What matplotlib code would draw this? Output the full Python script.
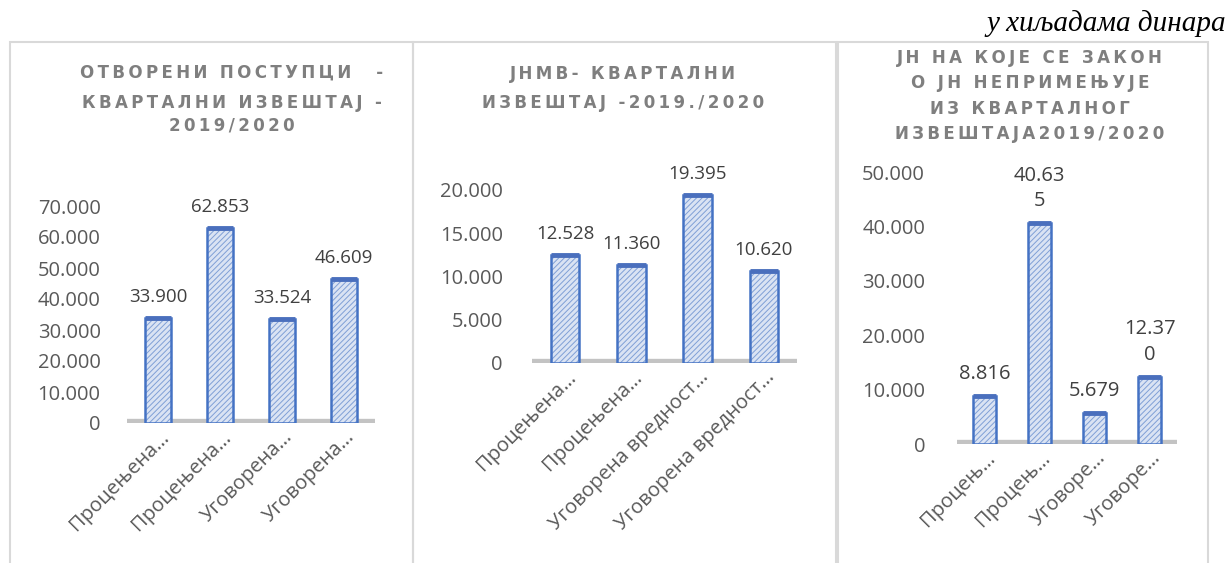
import matplotlib
matplotlib.use('Agg')
import matplotlib.pyplot as plt
import matplotlib.patches as mpatches
from matplotlib.transforms import ScaledTranslation

# ---------------------------------------------------------------------------
# Data (values in thousands of dinars)
# ---------------------------------------------------------------------------
CATS_OPEN = ['Процењена…', 'Процењена…', 'Уговорена…', 'Уговорена…']
VALS_OPEN = [33900, 62853, 33524, 46609]
TITLE_OPEN = ['ОТВОРЕНИ ПОСТУПЦИ  -', 'КВАРТАЛНИ ИЗВЕШТАЈ -', '2019/2020']
YMAX_OPEN, YSTEP_OPEN = 70000, 10000

CATS_LOW = ['Процењена…', 'Процењена…', 'Уговорена вредност…', 'Уговорена вредност…']
VALS_LOW = [12528, 11360, 19395, 10620]
TITLE_LOW = ['ЈНМВ- КВАРТАЛНИ', 'ИЗВЕШТАЈ -2019./2020']
YMAX_LOW, YSTEP_LOW = 20000, 5000

CATS_EXEMPT = ['Процењ…', 'Процењ…', 'Уговоре…', 'Уговоре…']
VALS_EXEMPT = [8816, 40635, 5679, 12370]
TITLE_EXEMPT = ['ЈН НА КОЈЕ СЕ ЗАКОН', 'О ЈН НЕПРИМЕЊУЈЕ', 'ИЗ КВАРТАЛНОГ', 'ИЗВЕШТАЈА2019/2020']
YMAX_EXEMPT, YSTEP_EXEMPT = 50000, 10000

UNIT_LABEL = 'у хиљадама динара'

# ---------------------------------------------------------------------------
# Styling
# ---------------------------------------------------------------------------
W, H = 1228, 563
FONT = ['Open Sans', 'DejaVu Sans']
TICK_COLOR = '#595959'
LABEL_COLOR = '#404040'
TITLE_COLOR = '#7f7f7f'
BAR_FACE = '#dae3f3'
BAR_HATCH = '#7f9fd6'
BAR_EDGE = '#4472c4'
FLOOR_COLOR = '#c3c3c3'
BORDER_COLOR = '#d9d9d9'

plt.rcParams['font.family'] = FONT
plt.rcParams['hatch.linewidth'] = 0.7


def fmt(v):
    return f'{v:,}'.replace(',', '.')


def spaced(line):
    # imitate the letter spacing of the Excel chart titles
    return ' \u2009\u2009'.join('\u2009'.join(word) for word in line.split(' '))


def px_rect(left, right, bottom, top):
    return [left / W, 1 - bottom / H, (right - left) / W, (bottom - top) / H]


def draw_panel(fig, rect, cats, vals, ymax, ystep, tick_pad, label_size, wrap=None):
    ax = fig.add_axes(rect)
    x = list(range(len(cats)))
    width = 0.43

    ax.axhline(0, color=FLOOR_COLOR, lw=6, zorder=1, solid_capstyle='butt')
    ax.bar(x, vals, width=width, color=BAR_FACE, edgecolor=BAR_HATCH,
           hatch='//////', linewidth=0, zorder=2)
    ax.bar(x, vals, width=width, facecolor='none', edgecolor=BAR_EDGE,
           linewidth=1.8, zorder=3)
    ax.hlines(vals, [i - width / 2 for i in x], [i + width / 2 for i in x],
              color='#4a6fbd', lw=3.5, zorder=4)

    for xi, v in zip(x, vals):
        s = fmt(v)
        if wrap and len(s) > wrap:
            s = s[:wrap] + '\n' + s[wrap:]
        ax.annotate(s, (xi, v), xytext=(0, 12), textcoords='offset pixels',
                    ha='center', va='bottom', fontsize=label_size,
                    color=LABEL_COLOR, linespacing=1.35, annotation_clip=False)

    ax.set_xlim(-0.5, len(cats) - 0.5)
    ax.set_ylim(0, ymax)
    yt = list(range(0, ymax + 1, ystep))
    ax.set_yticks(yt)
    ax.set_yticklabels([fmt(v) for v in yt])
    ax.set_xticks(x)
    ax.set_xticklabels(cats, rotation=45, ha='right', va='center',
                       rotation_mode='anchor')
    ax.tick_params(axis='y', length=0, pad=tick_pad, labelsize=14.5,
                   labelcolor=TICK_COLOR)
    ax.tick_params(axis='x', length=0, pad=8, labelsize=14.5,
                   labelcolor=TICK_COLOR)
    shift = ScaledTranslation(8 / 100, 0, fig.dpi_scale_trans)
    for lbl in ax.get_xticklabels():
        lbl.set_transform(lbl.get_transform() + shift)
    for sp in ax.spines.values():
        sp.set_visible(False)
    ax.patch.set_alpha(0)
    return ax


def draw_title(fig, lines, xc, ys):
    for line, y in zip(lines, ys):
        fig.text(xc / W, 1 - y / H, spaced(line), ha='center', va='center',
                 fontsize=12, fontweight='bold', color=TITLE_COLOR,
                 family='DejaVu Sans')


fig = plt.figure(figsize=(W / 100, H / 100), dpi=100, facecolor='white')

# panel borders
for left, right in [(10, 413), (413, 836), (838, 1208)]:
    fig.patches.append(mpatches.Rectangle(
        (left / W, -0.1), (right - left) / W, 1.1 - 42 / H,
        transform=fig.transFigure, fill=False, edgecolor=BORDER_COLOR,
        linewidth=1.5, zorder=0))

draw_panel(fig, px_rect(127, 375, 423, 206), CATS_OPEN, VALS_OPEN,
           YMAX_OPEN, YSTEP_OPEN, tick_pad=19, label_size=13.5)
draw_panel(fig, px_rect(532, 797, 363, 190), CATS_LOW, VALS_LOW,
           YMAX_LOW, YSTEP_LOW, tick_pad=21, label_size=13.5)
draw_panel(fig, px_rect(957, 1177, 444, 172), CATS_EXEMPT, VALS_EXEMPT,
           YMAX_EXEMPT, YSTEP_EXEMPT, tick_pad=23, label_size=14.5, wrap=5)

draw_title(fig, TITLE_OPEN, 232, [73, 103, 126])
draw_title(fig, TITLE_LOW, 623, [74, 103])
draw_title(fig, TITLE_EXEMPT, 1030, [58, 83, 109, 134])

fig.text(1226 / W, 1 - 31 / H, UNIT_LABEL, ha='right', va='baseline',
         fontsize=21, style='italic', family='Liberation Serif')

fig.savefig('out.png', dpi=100, facecolor='white')
